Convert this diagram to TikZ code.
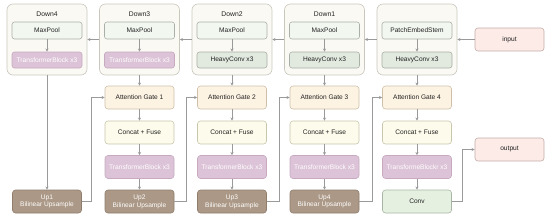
\documentclass[tikz,border=0pt]{standalone}
\usepackage{fontspec}
\setmainfont{Liberation Sans}
\usetikzlibrary{arrows.meta,positioning}
\definecolor{contfill}{HTML}{FAF9F3}
\definecolor{contdraw}{HTML}{C9C7BE}
\definecolor{mpfill}{HTML}{F2F7F0}
\definecolor{mpdraw}{HTML}{A9B0A6}
\definecolor{tbfill}{HTML}{DCC3D7}
\definecolor{tbdraw}{HTML}{C7AABF}
\definecolor{hcfill}{HTML}{E2EADF}
\definecolor{iofill}{HTML}{FCEBE7}
\definecolor{iodraw}{HTML}{C4ADAA}
\definecolor{agfill}{HTML}{FDF3E3}
\definecolor{agdraw}{HTML}{CDBFA9}
\definecolor{cffill}{HTML}{FDFBEB}
\definecolor{cfdraw}{HTML}{C9C6AE}
\definecolor{upfill}{HTML}{AB9886}
\definecolor{updraw}{HTML}{8F7D6D}
\definecolor{cvfill}{HTML}{E5F0E1}
\definecolor{cvdraw}{HTML}{A8B5A4}
\definecolor{linecol}{HTML}{9A9A9A}
\definecolor{txt}{HTML}{222222}
\tikzset{
  every node/.style={font=\fontsize{6.6pt}{7.8pt}\selectfont, text=txt, align=center, inner sep=0pt},
  cont/.style={draw=contdraw, fill=contfill, rounded corners=6pt, minimum width=80pt, minimum height=71pt, line width=0.6pt},
  inner/.style={rounded corners=2.5pt, minimum width=70pt, line width=0.6pt},
  mp/.style={inner, draw=mpdraw, fill=mpfill, minimum height=17pt},
  tbs/.style={inner, draw=tbdraw, fill=tbfill, minimum height=16pt, text=white},
  hc/.style={inner, draw=mpdraw, fill=hcfill, minimum height=16pt},
  colbox/.style={rounded corners=3pt, minimum width=69pt, minimum height=23pt, line width=0.6pt},
  io/.style={colbox, draw=iodraw, fill=iofill},
  ag/.style={colbox, draw=agdraw, fill=agfill},
  cf/.style={colbox, draw=cfdraw, fill=cffill},
  tb/.style={colbox, draw=tbdraw, fill=tbfill, text=white},
  up/.style={colbox, draw=updraw, fill=upfill, text=white},
  cv/.style={colbox, draw=cvdraw, fill=cvfill},
  conn/.style={draw=linecol, line width=0.6pt, -{Stealth[length=3.2pt,width=3.2pt]}},
  title/.style={font=\fontsize{6.8pt}{8pt}\selectfont}
}
\begin{document}
\begin{tikzpicture}[x=1pt,y=-1pt]
\useasboundingbox (0,0) rectangle (550,218);
% containers
\foreach \n/\cx in {4/47,3/139.5,2/232,1/324.5,0/417}{
  \node[cont] (c\n) at (\cx,39.5) {};
}
\node[title] (t4) at (47,14) {Down4};
\node[title] (t3) at (139.5,14) {Down3};
\node[title] (t2) at (232,14) {Down2};
\node[title] (t1) at (324.5,14) {Down1};
\node[mp] (m4) at (47,30.5) {MaxPool};
\node[mp] (m3) at (139.5,30.5) {MaxPool};
\node[mp] (m2) at (232,30.5) {MaxPool};
\node[mp] (m1) at (324.5,30.5) {MaxPool};
\node[mp] (m0) at (417,30.5) {PatchEmbedStem};
\node[tbs] (b4) at (47,60) {TransformerBlock x3};
\node[tbs] (b3) at (139.5,60) {TransformerBlock x3};
\node[hc] (b2) at (232,60) {HeavyConv x3};
\node[hc] (b1) at (324.5,60) {HeavyConv x3};
\node[hc] (b0) at (417,60) {HeavyConv x3};
\foreach \i in {0,1,2,3,4}{ \draw[conn] (m\i) -- (b\i); }
\node[io] (input) at (509.5,39.5) {input};
\node[io] (output) at (509.5,149.5) {output};
\draw[conn] (input) -- (c0);
\draw[conn] (c0) -- (c1);
\draw[conn] (c1) -- (c2);
\draw[conn] (c2) -- (c3);
\draw[conn] (c3) -- (c4);
% decoder columns
\node[ag] (a1) at (139.5,97.5) {Attention Gate 1};
\node[ag] (a2) at (232,97.5) {Attention Gate 2};
\node[ag] (a3) at (324.5,97.5) {Attention Gate 3};
\node[ag] (a4) at (417,97.5) {Attention Gate 4};
\node[cf] (f1) at (139.5,132.5) {Concat + Fuse};
\node[cf] (f2) at (232,132.5) {Concat + Fuse};
\node[cf] (f3) at (324.5,132.5) {Concat + Fuse};
\node[cf] (f4) at (417,132.5) {Concat + Fuse};
\node[tb] (d1) at (139.5,167) {TransformerBlock x3};
\node[tb] (d2) at (232,167) {TransformerBlock x3};
\node[tb] (d3) at (324.5,167) {TransformerBlock x3};
\node[tb] (d4) at (417,167) {TransformeBlockr x3};
\node[up] (u1) at (47,201.5) {Up1\\Bilinear Upsample};
\node[up] (u2) at (139.5,201.5) {Up2\\Bilinear Upsample};
\node[up] (u3) at (232,201.5) {Up3\\Bilinear Upsample};
\node[up] (u4) at (324.5,201.5) {Up4\\Bilinear Upsample};
\node[cv] (conv) at (417,201.5) {Conv};
\draw[conn] (c4) -- (u1);
\draw[conn] (c3) -- (a1);
\draw[conn] (c2) -- (a2);
\draw[conn] (c1) -- (a3);
\draw[conn] (c0) -- (a4);
\foreach \i in {1,2,3,4}{
  \draw[conn] (a\i) -- (f\i);
  \draw[conn] (f\i) -- (d\i);
}
\draw[conn] (d1) -- (u2);
\draw[conn] (d2) -- (u3);
\draw[conn] (d3) -- (u4);
\draw[conn] (d4) -- (conv);
\draw[conn] (u1.east) -- ++(9.5,0) |- (a1.west);
\draw[conn] (u2.east) -- ++(12,0) |- (a2.west);
\draw[conn] (u3.east) -- ++(12.5,0) |- (a3.west);
\draw[conn] (u4.east) -- ++(13,0) |- (a4.west);
\draw[conn] (conv.east) -- ++(10.5,0) |- (output.west);
\end{tikzpicture}
\end{document}
